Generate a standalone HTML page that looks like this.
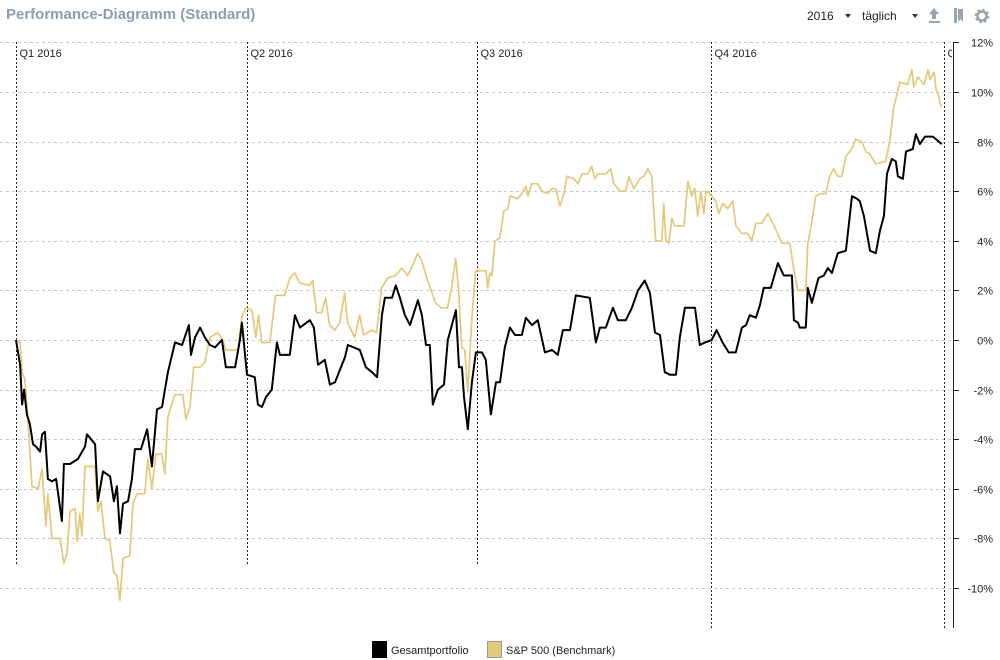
<!DOCTYPE html>
<html><head><meta charset="utf-8"><style>
body{margin:0;background:#fff;font-family:"Liberation Sans",sans-serif}
svg{display:block}
</style></head><body>
<svg id="chart" width="1000" height="660" viewBox="0 0 1000 660" xmlns="http://www.w3.org/2000/svg" font-family="Liberation Sans, sans-serif">
<defs><clipPath id="qclip"><rect x="0" y="0" width="952" height="660"/></clipPath></defs>
<text x="6" y="19" font-size="15" font-weight="bold" fill="#8d9db1">Performance-Diagramm (Standard)</text>
<g><text x="807" y="20" font-size="12" fill="#222">2016</text><path d="M845 14 l6 0 l-3 4z" fill="#333"/></g>
<g><text x="862" y="20" font-size="12" fill="#222">täglich</text><path d="M912 14 l6 0 l-3 4z" fill="#333"/></g>
<g fill="#9aa4b0"><path d="M934 8 l5 6 h-3 v5 h-4 v-5 h-3z"/><rect x="929" y="21" width="11" height="2"/></g>
<g fill="#9aa4b0"><rect x="954" y="8" width="3" height="15"/><path d="M958 9 h5 v13 l-2.5 -3 l-2.5 3z"/></g>
<g><circle cx="982" cy="16" r="5.5" fill="none" stroke="#9aa4b0" stroke-width="3.5" stroke-dasharray="2.4 1.9"/><circle cx="982" cy="16" r="4.5" fill="none" stroke="#9aa4b0" stroke-width="2.5"/></g>
<g id="grid"></g><g id="qlines"></g><g id="series"></g><g id="axis"></g>
<g font-size="11" fill="#222">
<rect x="372" y="641" width="15" height="17" fill="#000"/>
<text x="391" y="654">Gesamtportfolio</text>
<rect x="487.5" y="641.5" width="14" height="16" fill="#e2c97c" stroke="#999"/>
<text x="506" y="654">S&amp;P 500 (Benchmark)</text>
</g>
</svg>
<script>
const yTicks=[12,10,8,6,4,2,0,-2,-4,-6,-8,-10];
const quarterDays=[0,91,182,274,366];
const quarterLabels=["Q1 2016","Q2 2016","Q3 2016","Q4 2016","Q1 2017"];
const portfolioDays=[0,1.6,2.4,3.2,4.3,5.5,6.7,7.9,9.5,10.3,11.4,12.6,14.2,15.8,18.1,18.9,21.3,24.4,27.2,28,31.2,32.3,34.3,37.1,38.6,39.8,41,42.2,44.2,45.7,46.9,49.3,51.7,53.6,55.6,57.6,59.9,62.7,65.5,68.2,69,70.6,72.6,74.5,76.5,78.5,81.2,82.8,86.4,88.3,89.1,91.1,94.2,95.4,97,98.6,100.9,102.9,104.1,108,110,112,115.9,117.5,119.1,121.8,123.8,125.8,129.7,130.9,135.6,138,140.4,142.4,144.3,145.5,148.3,149.8,151.4,153.4,155.4,158.5,160.1,161.7,163.2,164.4,166.4,168.8,170.3,173.5,174.7,175.9,176.7,178.2,179.8,181.4,183,183.8,185.3,187.3,189.3,190.9,192.8,194.8,196.8,199.5,201.1,203.5,205.8,208.6,211.4,213.7,215.7,218.5,220.8,226.3,228.7,230.3,232.6,235.4,237.4,240.5,242.9,245.3,248,250,252,254,255.9,257.9,260.3,261.8,263.8,267.8,269.7,271.7,274.4,276.3,278.7,281.1,283.9,286.3,287.9,289.4,291.8,293.4,294.9,297.7,300.5,302.8,306,306.8,308.4,309.1,311.5,312.3,313.9,316.5,318.6,320.2,321.8,324.1,327.3,329.7,331.6,332.8,334.4,336.8,339.1,340.7,342.3,343.5,345.4,347,347.8,349.8,351,353.7,354.9,356.5,358.5,361.6,362.8,365.1];
const portfolioValues=[0,-1,-2.6,-2,-3,-3.4,-4.2,-4.3,-4.5,-3.8,-3.7,-5.6,-5.7,-5.6,-7.3,-5,-5,-4.8,-4.3,-3.8,-4.2,-6.5,-5.3,-5.5,-6.5,-5.9,-7.8,-6.6,-6.5,-5.6,-4.4,-4.4,-3.6,-5.1,-2.8,-2.7,-1.3,-0.1,-0.2,0.6,-0.6,0.1,0.5,0.1,-0.2,-0.3,0,-1.1,-1.1,0,0.7,-1.4,-1.5,-2.6,-2.7,-2.3,-2,-0.1,-0.6,-0.6,1,0.5,0.8,0.5,-1,-0.8,-1.8,-1.7,-0.7,-0.2,-0.4,-1.1,-1.3,-1.5,1,1.7,1.7,2.2,1.7,1,0.6,1.6,1,-0.2,-0.2,-2.6,-2,-1.8,0,1.2,-1.1,-1.1,-2.3,-3.6,-1.7,-0.5,-0.5,-0.5,-0.8,-3,-1.7,-1.7,-0.3,0.5,0.2,0.2,0.9,0.6,0.8,-0.5,-0.4,-0.6,0.4,0.4,1.8,1.7,-0.1,0.5,0.5,1.3,0.8,0.8,1.3,2,2.4,1.9,0.3,0.2,-1.3,-1.4,-1.4,0.1,1.3,1.3,-0.2,-0.1,0,0.4,-0.1,-0.5,-0.5,0.5,0.6,1,0.9,1.4,2.1,2.1,3.1,2.6,2.6,0.8,0.7,0.5,0.5,2.1,1.5,2.5,2.6,2.9,2.7,3.5,3.6,5.8,5.7,5.6,5,3.6,3.5,4.4,5,6.7,7.3,7.2,6.6,6.5,7.6,7.7,8.3,7.9,8.2,8.2,8.1,7.9];
const benchmarkDays=[0,1.6,2.4,3.5,4.7,6.3,8.7,10.3,11.8,12.6,14.2,17.3,18.9,20.1,21.3,23.3,24.1,25.2,26,27.2,31.1,32.3,33.5,35.1,37,38.6,39.8,41,42.2,44.9,46.1,47.7,50.8,52,53.6,55.2,57.5,58.7,59.9,62.6,65.8,67,68.6,70.1,72.5,74.5,76.4,79.6,81.6,82.7,87.5,89,90.6,93,94.6,95.7,96.9,100.1,102.4,106,108,109.9,111.9,115.8,117,118.6,120.6,122.1,123.7,125.7,127.7,129.6,130.8,133.6,135.5,137.1,140.3,142.2,144.2,146.6,149.7,152.1,154.5,156.8,158.4,160,162.3,165.5,167.5,170.2,171.8,173.4,174.6,175.8,177,178.2,179.8,181.3,182.9,184.1,185.3,186.1,186.9,187.7,188.9,190.8,192.4,194,194.8,197.9,199.5,201.1,201.9,203.4,205.8,207.4,209.8,211.3,212.9,214.5,216.1,217.3,220,221.6,223.2,225.5,227.1,228.3,229.5,232.6,234.6,235.8,238.2,240.5,241.7,243.7,246,247.6,249.2,250.7,252.3,254.7,255.5,256.3,257.5,258.7,259.8,263.4,265,266.5,267.7,268.9,270.1,271.3,272.1,273.6,276,277.2,278.8,280.7,282.7,283.9,286.2,288.6,290.2,291.8,294.1,296.5,298.1,300.4,302,305.2,306.7,308.3,311.5,312.3,313.8,315.4,317,319.4,320.9,322.5,324.1,325.7,327.3,329.6,331.2,333.6,335.1,336.7,339.1,343,344.6,346.2,348.6,351.7,353.3,354.1,355.7,358.1,359.7,360.5,362.1,362.9,363.7,364.9];
const benchmarkValues=[0,-0.1,-1.3,-1.6,-3.2,-5.9,-6,-5.2,-7.5,-6.2,-8,-8,-9,-8.6,-6.9,-6.8,-8.1,-7,-7.9,-5.1,-5.1,-6.9,-6.5,-8,-8.1,-9.4,-9.5,-10.5,-8.8,-8.7,-6.6,-6.2,-6.2,-4.8,-6,-4.6,-4.6,-5.4,-3.1,-2.2,-2.2,-3.2,-2.7,-1.1,-1.1,-0.9,0.1,0.3,0,-0.4,-0.4,0.9,1.3,1.2,0.1,1,-0.1,-0.1,1.8,1.8,2.5,2.7,2.3,2.2,2.4,1.1,1.1,1.7,0.6,0.4,0.7,1.9,0.7,0.1,1,0.2,0.4,0.3,2.1,2.5,2.6,2.9,2.6,3.1,3.5,3.2,2.4,1.5,1.3,1.3,2.1,3.3,2,-0.3,-0.4,-2.1,0.9,2.8,2.8,2.8,2.8,2.1,2.7,2.6,4,4.1,5.2,5.3,5.8,5.7,5.9,6.2,5.8,6.3,6.3,6,5.9,6.1,6.1,5.4,5.9,6.6,6.5,6.3,6.7,6.7,7,6.5,6.7,6.7,6.9,6.3,6,6,6.6,6.1,6.5,6.6,6.9,6.6,4,4,5.5,4,3.9,4.9,4.6,4.6,6.4,5.8,6.1,5,6,5.1,6,5.9,5.6,5.1,5.5,5.3,5.6,4.6,4.3,4.3,4,4.7,4.7,5.1,4.8,4.3,3.9,3.9,2.9,2,2,3.9,4.7,5.8,5.9,5.9,6.6,6.9,6.6,6.6,7.4,7.7,8.1,8,7.6,7.5,7.1,7.2,8,9.4,10.4,10.3,10.9,10.2,10.6,10.3,10.9,10.5,10.8,10.1,9.9,9.4];

const NS="http://www.w3.org/2000/svg";
const X0=16,X1=944,Y0=340,PX=24.8;
function xScale(d){return X0+d*(X1-X0)/366;}
function yScale(v){return Y0-v*PX;}
function mk(tag,attrs,parent){const e=document.createElementNS(NS,tag);for(const k in attrs)e.setAttribute(k,attrs[k]);parent.appendChild(e);return e;}
const grid=document.getElementById('grid'),axis=document.getElementById('axis'),ql=document.getElementById('qlines'),ser=document.getElementById('series');
yTicks.forEach(t=>{
  const y=Math.round(yScale(t))+0.5;
  const g=mk('line',{x1:0,x2:953,y1:y,y2:y,stroke:'#c8c8c8','stroke-dasharray':'3 3','stroke-width':1},grid);
  
  
  const tk=mk('line',{x1:953,x2:959,y1:y,y2:y,stroke:'#222'},axis);
  
  
  const tx=mk('text',{x:993,y:y+4,'text-anchor':'end','font-size':11,fill:'#222'},axis);
  tx.textContent=t+'%';
  
  
});
const ax=mk('line',{x1:953.5,x2:953.5,y1:42,y2:628,stroke:'#222'},axis);


quarterDays.forEach((d,i)=>{
  const x=Math.round(xScale(d))+0.5;
  const l=mk('line',{x1:x,x2:x,y1:42,y2:(i>=3?630:565),stroke:'#222','stroke-dasharray':'2 2'},ql);
  
  
  const t=mk('text',{x:x+3,y:57,'font-size':11,fill:'#222','clip-path':'url(#qclip)'},ql);
  t.textContent=quarterLabels[i];
  
  
});
function line(days,vals,color,w,name){
  const d=days.map((dd,i)=>(i?'L':'M')+xScale(dd).toFixed(1)+' '+yScale(vals[i]).toFixed(1)).join(' ');
  const p=mk('path',{d:d,fill:'none',stroke:color,'stroke-width':w,'stroke-linejoin':'round'},ser);
  
  
}
line(benchmarkDays,benchmarkValues,'#e2c97c',1.7,'benchmark-line');
line(portfolioDays,portfolioValues,'#000',2,'portfolio-line');
</script>
</body></html>
